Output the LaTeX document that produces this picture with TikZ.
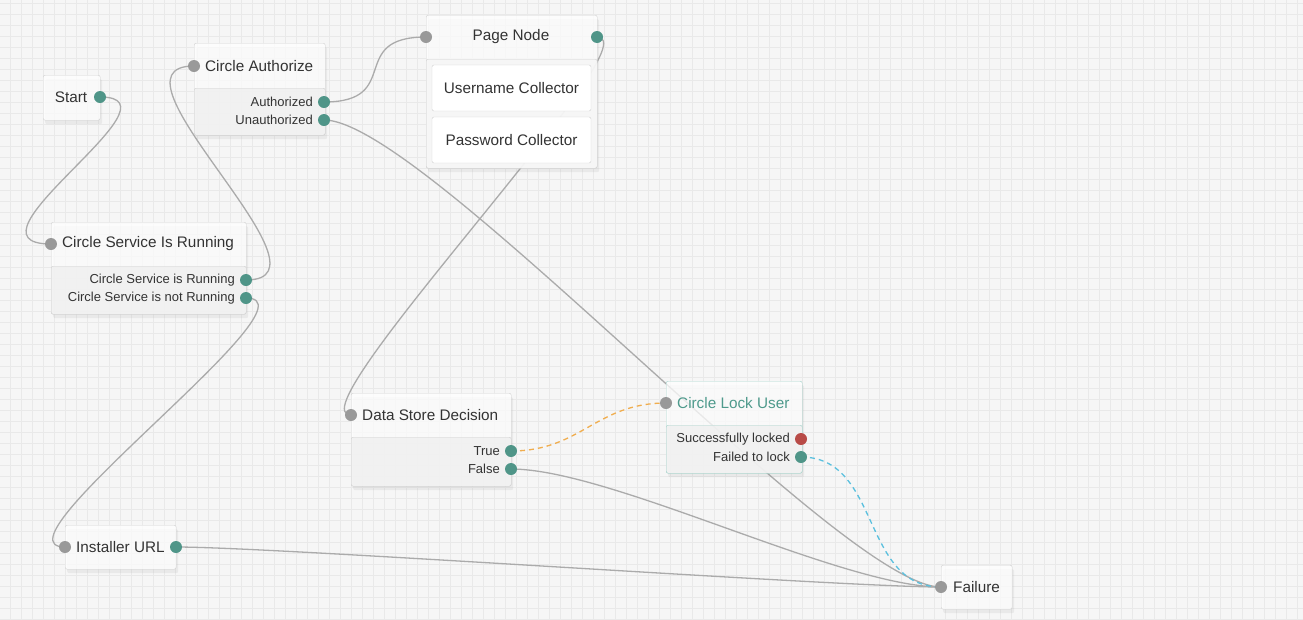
\documentclass[tikz,border=0pt]{standalone}
\usepackage{fontspec}
\setmainfont{Liberation Sans}
\usetikzlibrary{shadows,backgrounds}
\definecolor{canvas}{HTML}{F6F6F6}
\definecolor{gridcol}{HTML}{E9E9E9}
\definecolor{boxline}{HTML}{D0D0D0}
\definecolor{bodyfill}{HTML}{EFEFEF}
\definecolor{wirecol}{HTML}{ABABAB}
\definecolor{portin}{HTML}{999999}
\definecolor{portout}{HTML}{4F9588}
\definecolor{portred}{HTML}{B84B47}
\definecolor{txtcol}{HTML}{333333}
\definecolor{tealline}{HTML}{A6D3CB}
\definecolor{tealtxt}{HTML}{4E9A8C}
\definecolor{truecol}{HTML}{F0AD4E}
\definecolor{failcol}{HTML}{5BC0DE}
\begin{document}
\begin{tikzpicture}[x=1pt,y=-1pt,text=txtcol]
\tikzset{box/.style={draw=boxline,fill=white,fill opacity=0.75,rounded corners=2pt,anchor=north west,inner sep=0,drop shadow={opacity=0.1,shadow xshift=2pt,shadow yshift=-4pt}},
bodybox/.style={draw=boxline,fill=bodyfill,fill opacity=0.75,rounded corners=2pt,anchor=north west,inner sep=0},
subbox/.style={draw=boxline,fill=white,rounded corners=2pt,minimum width=159,minimum height=46,font=\fontsize{15.3}{17}\selectfont},
headtxt/.style={anchor=west,inner sep=0,font=\fontsize{15.3}{17}\selectfont},
lbl/.style={anchor=east,inner sep=0,font=\fontsize{13}{15}\selectfont},
inport/.style={circle,fill=portin,minimum size=12,inner sep=0},
outport/.style={inport,fill=portout},
wire/.style={draw=wirecol,line width=1.3pt}}
\useasboundingbox (0,0) rectangle (1303,619);
\begin{pgfonlayer}{background}
\fill[canvas] (0,0) rectangle (1303,619);
\foreach \x in {10,21,...,1303} \draw[gridcol,line width=0.5pt] (\x,0) -- (\x,619);
\foreach \y in {3,14,...,619} \draw[gridcol,line width=0.5pt] (0,\y) -- (1303,\y);
\end{pgfonlayer}

\node[box,minimum width=57,minimum height=45] (start) at (43,75) {};
\node[headtxt,anchor=center] (startt) at (71,97) {Start};
\node[outport] (starto) at (100,97) {};

\node[box,minimum width=131,minimum height=92] (ca) at (194,43) {};
\node[bodybox,minimum width=131,minimum height=47] (cab) at (194,88) {};
\node[headtxt] (cat) at (205,66) {Circle Authorize};
\node[lbl] (caal) at (313,102) {Authorized};
\node[lbl] (caul) at (313,120) {Unauthorized};
\node[inport] (cai) at (194,66) {};
\node[outport] (caa) at (324,102) {};
\node[outport] (cau) at (324,120) {};

\node[box,minimum width=171,minimum height=153] (pn) at (426,15) {};
\node[bodybox,fill=canvas,minimum width=171,minimum height=109] (pnb) at (426,59) {};
\node[headtxt,anchor=center] (pnt) at (511,37) {Page Node};
\node[subbox] (user) at (511.5,88) {Username Collector};
\node[subbox] (pass) at (511.5,140) {Password Collector};
\node[inport] (pni) at (426,37) {};
\node[outport] (pno) at (597,37) {};

\node[box,minimum width=195,minimum height=92] (csr) at (51,222) {};
\node[bodybox,minimum width=195,minimum height=48] (csrb) at (51,266) {};
\node[headtxt] (csrt) at (62,244) {Circle Service Is Running};
\node[lbl] (csryl) at (235,280) {Circle Service is Running};
\node[lbl] (csrnl) at (235,298) {Circle Service is not Running};
\node[inport] (csri) at (51,244) {};
\node[outport] (csry) at (246,280) {};
\node[outport] (csrn) at (246,298) {};

\node[box,minimum width=160,minimum height=93] (ds) at (351,393) {};
\node[bodybox,minimum width=160,minimum height=49] (dsb) at (351,437) {};
\node[headtxt] (dst) at (362,415) {Data Store Decision};
\node[lbl] (dstl) at (500,451) {True};
\node[lbl] (dsfl) at (500,469) {False};
\node[inport] (dsi) at (351,415) {};
\node[outport] (dsy) at (511,451) {};
\node[outport] (dsn) at (511,469) {};

\node[box,draw=tealline,minimum width=136,minimum height=92] (clu) at (666,381) {};
\node[bodybox,draw=tealline,minimum width=136,minimum height=48] (club) at (666,425) {};
\node[headtxt,text=tealtxt] (clut) at (677,403) {Circle Lock User};
\node[lbl] (clusl) at (790,439) {Successfully locked};
\node[lbl] (cluf) at (790,457) {Failed to lock};
\node[inport] (clui) at (666,403) {};
\node[outport,fill=portred] (cluso) at (801,439) {};
\node[outport] (clufo) at (801,457) {};

\node[box,minimum width=111,minimum height=44] (iu) at (65,525) {};
\node[headtxt] (iut) at (76,547) {Installer URL};
\node[inport] (iui) at (65,547) {};
\node[outport] (iuo) at (176,547) {};

\node[box,minimum width=71,minimum height=44] (fa) at (941,565) {};
\node[headtxt] (fat) at (953,587) {Failure};
\node[inport] (fai) at (941,587) {};

\begin{pgfonlayer}{background}
\draw[wire] (starto.center) .. controls +(90,0) and +(-100,0) .. (csri.center);
\draw[wire] (csry.center) .. controls +(100,0) and +(-100,0) .. (cai.center);
\draw[wire] (caa.center) .. controls +(80,0) and +(-80,0) .. (pni.center);
\draw[wire] (cau.center) .. controls +(100,0) and +(-100,0) .. (fai.center);
\draw[wire] (pno.center) .. controls +(60,0) and +(-60,0) .. (dsi.center);
\draw[wire] (csrn.center) .. controls +(80,0) and +(-80,0) .. (iui.center);
\draw[wire] (dsn.center) .. controls +(100,0) and +(-100,0) .. (fai.center);
\draw[wire] (iuo.center) .. controls +(100,0) and +(-100,0) .. (fai.center);
\draw[wire,draw=truecol,dash pattern=on 5pt off 4pt] (dsy.center) .. controls +(70,0) and +(-70,0) .. (clui.center);
\draw[wire,draw=failcol,dash pattern=on 5pt off 4pt] (clufo.center) .. controls +(80,0) and +(-80,0) .. (fai.center);
\end{pgfonlayer}
\end{tikzpicture}
\end{document}
